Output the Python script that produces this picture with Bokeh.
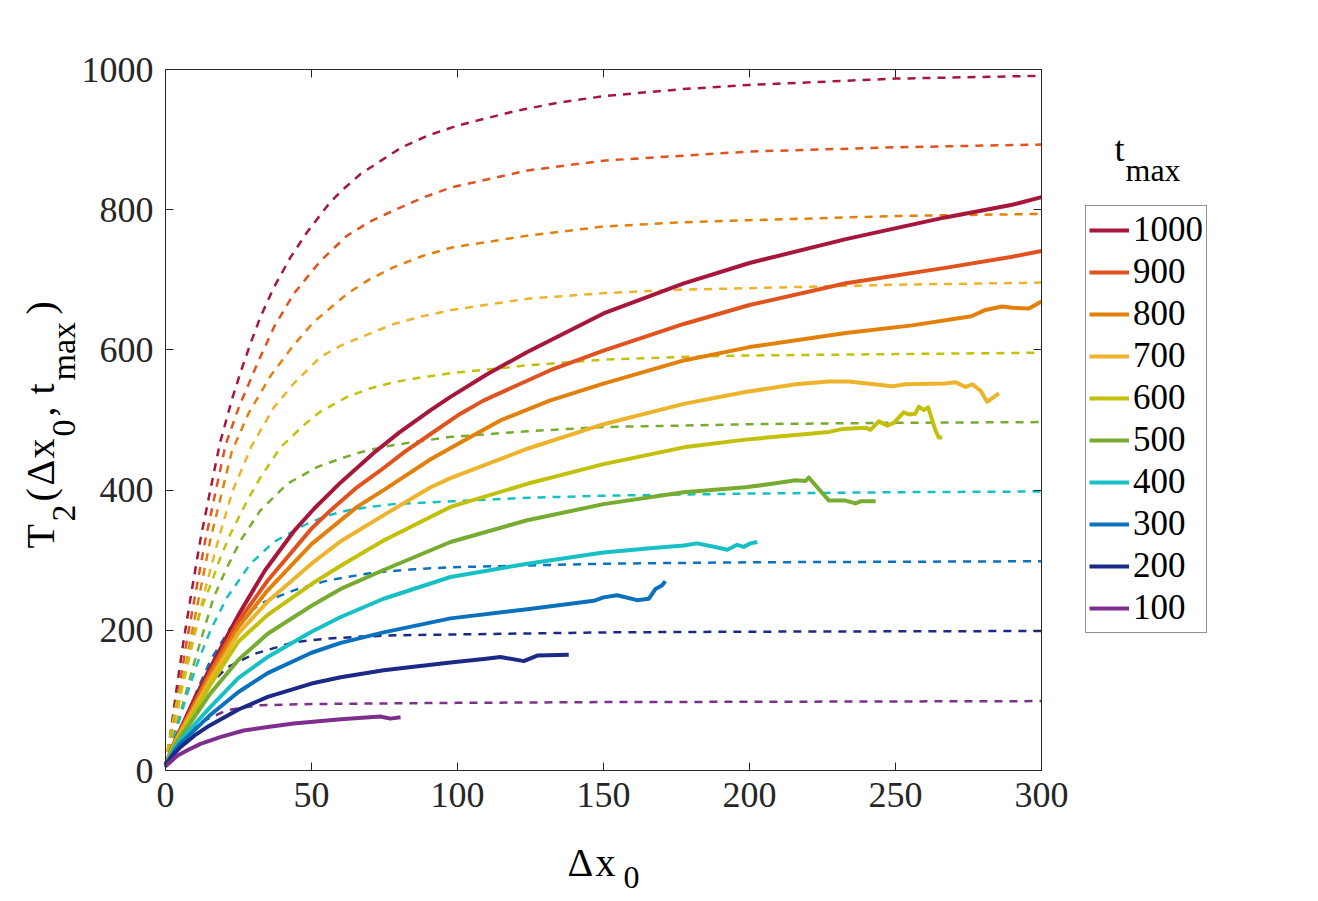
from math import pi
from bokeh.plotting import figure
from bokeh.models import (Range1d, LinearAxis, Legend, LegendItem, Label,
                          FixedTicker, CustomJSTickFormatter)
from bokeh.embed import file_html
from bokeh.resources import INLINE

# ---------------- data ----------------
t_max = [1000, 900, 800, 700, 600, 500, 400, 300, 200, 100]
colors = ["#A6173B", "#E0531F", "#E2800B", "#EDB32B", "#C3C00C",
          "#77AC30", "#17C0C4", "#0A72BD", "#1B2A86", "#7E2F8E"]

x_ticks = [0, 50, 100, 150, 200, 250, 300]
y_ticks = [0, 200, 400, 600, 800, 1000]

# dashed curves
dash_x_1000 = [0, 1.4, 3.7, 6.2, 9.0, 11.9, 15.3, 18.7, 22.8, 25.7, 29.1, 32.5, 37.1, 42.8, 48.5, 55.9, 60, 66.8, 80.5, 90, 100, 120, 135, 150, 177, 200, 250, 300]
dash_y_1000 = [5, 43, 114, 185, 257, 328, 399, 468, 530, 568, 609, 647, 689, 732, 768, 808, 826, 851, 888, 906, 920, 941, 953, 962, 972, 978, 987, 991]
dash_x_900 = [0, 1.8, 7.3, 13.6, 20.6, 25.1, 31.4, 37.1, 43.9, 53.1, 62.2, 70, 78.2, 88, 98, 124, 150, 177, 200, 250, 300]
dash_y_900 = [5, 43, 185, 328, 465, 518, 580, 632, 680, 727, 763, 783, 799, 817, 832, 856, 870, 877, 883, 889, 893]
dash_x_800 = [0, 2.2, 8.5, 15.3, 22.7, 28.5, 36, 43.9, 50.8, 62.2, 70, 78.2, 88, 98, 124, 150, 177, 200, 250, 300]
dash_y_800 = [5, 43, 185, 328, 455, 510, 563, 607, 640, 680, 701, 718, 734, 746, 763, 776, 782, 785, 791, 794]
dash_x_700 = [0, 2.2, 5.5, 9.5, 13.5, 18, 23, 29.5, 37.1, 43.9, 53.1, 60, 66.8, 78.2, 88, 98, 124, 150, 177, 199, 250, 300]
dash_y_700 = [5, 43, 114, 185, 257, 328, 399, 463, 518, 552, 590, 606, 618, 637, 648, 657, 673, 681, 686, 688, 693, 696]
dash_x_600 = [0, 0.6, 3.4, 6.3, 9.1, 12, 16, 18.8, 22.3, 28, 32.5, 39.4, 47.4, 53.1, 62.2, 70, 78.2, 88, 98, 124, 150, 177, 199, 250, 300]
dash_y_600 = [5, 28, 90, 138, 185, 228, 271, 304, 338, 385, 418, 461, 493, 512, 533, 545, 554, 561, 567, 578, 586, 590, 592, 594, 596]
dash_x_500 = [0, 2.8, 6.3, 9.7, 13.1, 16.5, 21.1, 25.7, 32.5, 41.7, 52, 60, 66.8, 75, 83.9, 98, 124, 150, 177, 199, 250, 300]
dash_y_500 = [5, 47, 100, 152, 200, 247, 290, 328, 371, 409, 433, 445, 454, 462, 468, 476, 484, 490, 492, 494, 496, 497]
dash_x_400 = [0, 4, 7.4, 10.8, 15.4, 21.1, 29.1, 37.1, 48.5, 55, 62.2, 70, 78.2, 98, 124, 150, 199, 250, 300]
dash_y_400 = [5, 62, 109, 152, 200, 247, 295, 326, 352, 363, 371, 376, 380, 384, 389, 392, 395, 397, 398]
dash_x_300 = [0, 6.3, 10.8, 15.4, 22.3, 32.5, 43.9, 55.4, 65, 72.5, 85, 98, 150, 199, 300]
dash_y_300 = [5, 67, 114, 157, 204, 238, 257, 271, 278, 283, 287, 290, 295, 297, 298.5]
dash_x_200 = [0, 7.4, 13.1, 21.1, 30.2, 43.9, 55, 66.8, 80, 98, 150, 197, 300]
dash_y_200 = [5, 76, 114, 147, 166, 183, 188, 191, 193, 194, 197, 198, 199]
dash_x_100 = [0, 6.3, 13.1, 21.1, 27, 32.5, 45, 55.4, 100, 150, 199, 300]
dash_y_100 = [5, 52, 71, 86, 90, 93, 94.5, 95, 96.5, 97.6, 98, 99]

# solid curves
sol_x_1000 = [0, 3.4, 5, 10, 15.4, 25, 34, 43.9, 50.8, 60, 71.3, 80, 90.8, 97.6, 110, 123.9, 150, 177.5, 200, 233, 267, 290, 300]
sol_y_1000 = [8, 44, 58, 103, 147, 222, 285, 341, 373, 411, 453, 482, 514, 533, 565, 597, 652, 695, 724, 758, 789, 807, 818]
sol_x_900 = [0, 3.4, 5, 10, 15, 25, 35, 50, 56.5, 65, 73.6, 82, 90.8, 101, 109, 131.8, 150, 177.5, 200, 233, 267, 290, 300]
sol_y_900 = [8, 43, 56, 97, 138, 213, 271, 345, 371, 402, 428, 455, 480, 509, 528, 571, 599, 637, 664, 695, 717, 733, 741]
sol_x_800 = [0, 3.4, 5, 10, 15, 25, 35, 50, 65.6, 74.7, 90.8, 101, 115, 131.8, 150, 177.5, 200, 233, 255.7, 276, 280.8, 286.5, 290, 295.7, 300]
sol_y_800 = [8, 42, 55, 93, 133, 205, 257, 323, 376, 400, 444, 468, 500, 528, 552, 585, 604, 624, 635, 648, 657, 662, 660, 659, 669]
sol_x_700 = [0, 3.4, 5, 10, 15, 25, 35, 50, 60, 77, 90.8, 97.6, 123.9, 150, 177.5, 198.6, 215.8, 227.2, 234, 248.9, 253.4, 267, 270.5, 274, 276.3, 279.1, 281.4, 285.4]
sol_y_700 = [8, 41, 53, 89, 127, 196, 241, 295, 327, 370, 404, 417, 459, 494, 523, 540, 551, 555, 555, 548, 551, 552, 554, 547, 551, 542, 526, 538]
sol_x_600 = [0, 3.4, 5, 10, 15, 25, 35, 50, 60, 74.7, 97.6, 123.9, 150, 177.5, 198.6, 227.2, 231.7, 239.7, 241.4, 244.3, 247.2, 249.4, 252.8, 254.6, 256.8, 258, 259.7, 261.2, 263.7, 264.8, 266]
sol_y_600 = [8, 40, 51, 84, 120, 184, 222, 266, 292, 328, 376, 409, 437, 461, 472, 483, 487, 489, 486, 498, 492, 496, 511, 508, 509, 519, 514, 518, 485, 475, 475]
sol_x_500 = [0, 3.4, 5, 10, 15, 25, 35, 50, 60, 74.7, 97.6, 123.9, 150, 177.5, 198.6, 207.8, 215.8, 219.2, 220.3, 223.2, 227.2, 232.9, 236.3, 238, 243.2]
sol_y_500 = [8, 37, 47, 77, 108, 158, 195, 235, 259, 286, 326, 357, 380, 397, 404, 409, 414, 413, 418, 404, 385, 385, 381, 384, 384]
sol_x_400 = [0, 3.4, 5, 10, 15, 25, 35, 50, 60, 74.7, 97.6, 123.9, 150, 166, 177.5, 182, 189, 192.4, 195.8, 198, 200.3, 202.7]
sol_y_400 = [8, 33, 42, 66, 89, 132, 162, 198, 219, 245, 276, 295, 311, 317, 321, 324, 318, 315, 322, 319, 324, 326]
sol_x_300 = [0, 3.4, 5, 10, 15, 25, 35, 50, 60, 74.7, 97.6, 123.9, 146.7, 150, 154.7, 161.5, 165.5, 167.8, 170, 171.2]
sol_y_300 = [8, 30, 38, 58, 78, 112, 139, 168, 182, 197, 217, 230, 242, 247, 250, 243, 245, 259, 264, 270]
sol_x_200 = [0, 3.4, 5, 10, 15, 25, 35, 50, 60, 74.7, 97.6, 109, 114.7, 122.7, 127.3, 138.1]
sol_y_200 = [8, 26, 33, 50, 64, 87, 105, 124, 133, 143, 154, 159, 162, 156, 164, 165]
sol_x_100 = [0, 4, 8, 12, 19, 26.8, 35, 43.9, 60, 73.6, 77, 80.5]
sol_y_100 = [6, 21, 30, 38, 48, 57, 62, 67, 73, 77, 74, 76]

dashed = {
    1000: (dash_x_1000, dash_y_1000), 900: (dash_x_900, dash_y_900),
    800: (dash_x_800, dash_y_800), 700: (dash_x_700, dash_y_700),
    600: (dash_x_600, dash_y_600), 500: (dash_x_500, dash_y_500),
    400: (dash_x_400, dash_y_400), 300: (dash_x_300, dash_y_300),
    200: (dash_x_200, dash_y_200), 100: (dash_x_100, dash_y_100),
}
solid = {
    1000: (sol_x_1000, sol_y_1000), 900: (sol_x_900, sol_y_900),
    800: (sol_x_800, sol_y_800), 700: (sol_x_700, sol_y_700),
    600: (sol_x_600, sol_y_600), 500: (sol_x_500, sol_y_500),
    400: (sol_x_400, sol_y_400), 300: (sol_x_300, sol_y_300),
    200: (sol_x_200, sol_y_200), 100: (sol_x_100, sol_y_100),
}

# ---------------- layout constants (pixels) ----------------
W, H = 1300, 900
FL, FR, FT, FB = 165, 1041, 69, 770      # plot box in canvas pixels
XMIN, XMAX, YMIN, YMAX = 0, 300, 0, 1000


def px2x(px):
    return XMIN + (px - FL) * (XMAX - XMIN) / (FR - FL)


def py2y(py):
    return YMIN + (FB - py) * (YMAX - YMIN) / (FB - FT)


FONT = "Liberation Serif"
AX = "#262626"

p = figure(width=W, height=H,
           x_range=Range1d(px2x(0), px2x(W)), y_range=Range1d(py2y(H), py2y(0)),
           x_axis_location=None, y_axis_location=None,
           output_backend="svg", toolbar_location=None, min_border=0)
p.xgrid.visible = False
p.ygrid.visible = False
p.outline_line_color = None
p.background_fill_color = "white"
p.border_fill_color = "white"


def make_axis(loc, bounds, ticks, labels=True):
    ax = LinearAxis(fixed_location=loc, bounds=bounds, ticker=FixedTicker(ticks=ticks))
    ax.major_tick_in = 8
    ax.major_tick_out = 0
    ax.minor_tick_line_color = None
    ax.axis_line_color = AX
    ax.axis_line_width = 1
    ax.major_tick_line_color = AX
    if labels:
        ax.major_label_text_font = FONT
        ax.major_label_text_font_size = "36px"
        ax.major_label_text_color = AX
        ax.major_label_standoff = 12
    else:
        ax.formatter = CustomJSTickFormatter(code="return ''")
        ax.major_label_text_font_size = "1px"
        ax.major_label_standoff = 0
    return ax


p.add_layout(make_axis(YMIN, (XMIN, XMAX), x_ticks), "below")
p.add_layout(make_axis(XMIN, (YMIN, YMAX), y_ticks), "left")
p.add_layout(make_axis(YMAX, (XMIN, XMAX), x_ticks, labels=False), "above")
p.add_layout(make_axis(XMAX, (YMIN, YMAX), y_ticks, labels=False), "right")

for t, c in zip(t_max, colors):
    xs, ys = dashed[t]
    p.line(x=xs, y=ys, line_color=c, line_width=2.5, line_dash="8 7")

items = []
for t, c in zip(t_max, colors):
    xs, ys = solid[t]
    r = p.line(x=xs, y=ys, line_color=c, line_width=4, line_join="round")
    items.append(LegendItem(label=str(t), renderers=[r]))

legend = Legend(items=items, location=(1085, H - 633), orientation="vertical",
                border_line_color=AX, border_line_width=1, background_fill_color="white",
                background_fill_alpha=1.0,
                label_text_font=FONT, label_text_font_size="35px", label_text_color="black",
                glyph_width=40, glyph_height=42, label_height=42, spacing=0,
                padding=3, margin=0, label_standoff=4)
p.add_layout(legend, "center")


def lab(text, px, py, size, angle=0.0):
    p.add_layout(Label(x=px2x(px), y=py2y(py), text=text, angle=angle,
                       text_font=FONT, text_font_size=f"{size}px", text_color="black",
                       text_align="left", text_baseline="alphabetic"))


# x axis label: Δx_0
lab("Δ", 567, 862, 40)
lab("x", 595, 862, 40)
lab("0", 623, 877, 32)

# y axis label: T_2(Δx_0, t_max), rotated
A = pi / 2
lab("T", 40, 548, 40, A)
lab("2", 63, 521, 34, A)
lab("(", 40, 501, 40, A)
lab("Δ", 40, 485, 40, A)
lab("x", 40, 458, 40, A)
lab("0", 63, 436, 34, A)
lab(",", 40, 416, 40, A)
lab("t", 40, 394, 40, A)
lab("max", 63, 380, 34, A)
lab(")", 40, 314, 40, A)

# legend title t_max
lab("t", 1114, 148, 36)
lab("max", 1125, 169, 32)

open("out.html", "w").write(file_html(p, INLINE))
